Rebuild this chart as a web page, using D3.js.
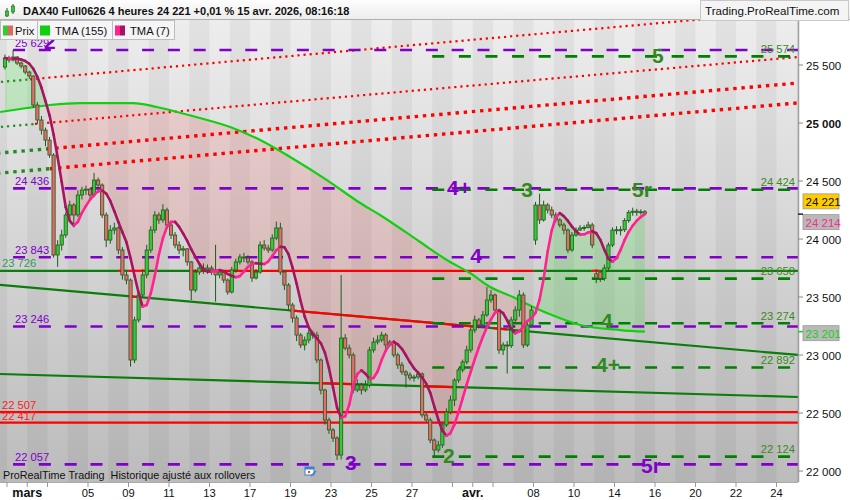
<!DOCTYPE html>
<html>
<head>
<meta charset="utf-8">
<script src="https://cdn.jsdelivr.net/npm/d3@7"></script>
<style>
body{margin:0;background:#fff;}
svg{display:block;font-family:Arial,"Liberation Sans",sans-serif;}
</style>
</head>
<body>
<svg id="chart" width="850" height="500"></svg>
<script>
// ---- data ----
// day 0 = 26 fevr., trading days only (3 and 6 avr. closed)
var tickDays  = [2, 5, 7, 9, 11, 13, 15, 17, 19, 21, 24, 27, 29, 31, 33, 35, 37, 39]
var tickTexts = ['mars', '05', '09', '11', '13', '17', '19', '23', '25', '27', 'avr.', '08', '10', '14', '16', '20', '22', '24']
var monthTicks = [1, 3, 23, 25]

// 4h bars [open, high, low, close], first one = last bar of 26 fevr.
var candles = [
[25482,25590,25460,25560],[25560,25580,25520,25543],[25543,25629,25530,25569],[25569,25575,25500,25517],
[25517,25530,25470,25491],[25491,25500,25420,25439],[25439,25450,25380,25405],[25405,25410,25130,25155],
[25155,25180,24990,25026],[25026,25060,24900,24939],[24939,24960,24800,24853],[24853,24880,24700,24724],
[24724,24740,23840,23862],[23862,23990,23760,23948],[23948,24080,23900,24034],[24034,24230,24010,24207],
[24207,24330,24170,24293],[24293,24310,24100,24207],[24207,24420,24190,24379],[24379,24450,24340,24422],
[24422,24460,24380,24430],[24430,24440,24350,24379],[24379,24570,24360,24508],[24508,24530,24440,24465],
[24465,24480,24180,24207],[24207,24230,23930,23991],[23991,24120,23960,24077],[24077,24140,24040,24095],
[24095,24110,23870,23905],[23905,23930,23650,23690],[23690,23720,23610,23646],[23646,23660,22900,22957],
[22957,23330,22930,23302],[23302,23560,23280,23517],[23517,23740,23500,23690],[23690,23950,23660,23905],
[23905,24110,23880,24077],[24077,24240,24050,24207],[24207,24230,24130,24164],[24164,24300,24140,24250],
[24250,24270,24090,24121],[24121,24140,24000,24034],[24034,24060,23920,23948],[23948,23980,23870,23905],
[23905,23940,23850,23915],[23915,23920,23770,23802],[23802,23810,23474,23560],[23560,23740,23540,23715],
[23715,23800,23690,23750],[23750,23790,23700,23733],[23733,23780,23700,23750],[23750,23770,23690,23733],
[23733,23950,23460,23690],[23690,23740,23660,23715],[23715,23730,23620,23646],[23646,23660,23520,23543],
[23543,23760,23530,23733],[23733,23830,23710,23802],[23802,23870,23780,23845],[23845,23880,23800,23836],
[23836,23860,23780,23802],[23802,23820,23630,23664],[23664,23740,23650,23715],[23715,23980,23700,23948],
[23948,23990,23900,23922],[23922,23950,23880,23905],[23905,24040,23890,24008],[24008,24150,23990,24095],
[24095,24140,23690,23715],[23715,23730,23560,23603],[23603,23620,23380,23431],[23431,23450,23280,23319],
[23319,23340,23120,23172],[23172,23190,23060,23086],[23086,23160,23040,23129],[23129,23220,23100,23189],
[23189,23210,23140,23172],[23172,23200,22930,22957],[22957,22970,22660,22698],[22698,22710,22400,22440],
[22440,22460,22320,22354],[22354,22370,22250,22284],[22284,22300,22095,22138],[22138,23690,22100,23146],
[23146,23180,23040,23060],[23060,23090,22970,23000],[23000,23020,22670,22698],[22698,22790,22680,22741],
[22741,22760,22660,22698],[22698,22780,22680,22741],[22741,23070,22720,23043],[23043,23150,23020,23112],
[23112,23170,23090,23129],[23129,23200,23110,23172],[23172,23190,23050,23086],[23086,23130,23070,23112],
[23112,23130,22980,23000],[23000,23020,22880,22914],[22914,22940,22830,22854],[22854,22870,22720,22828],
[22828,22850,22780,22802],[22802,22830,22770,22810],[22810,22860,22790,22836],[22836,22850,22460,22483],
[22483,22500,22420,22440],[22440,22460,22240,22267],[22267,22280,22124,22181],[22181,22260,22160,22224],
[22224,22420,22200,22397],[22397,22540,22380,22509],[22509,22650,22490,22612],[22612,22800,22560,22784],
[22784,22890,22760,22871],[22871,22960,22850,22940],[22940,23080,22920,23043],[23043,23240,23020,23215],
[23215,23340,23190,23302],[23302,23320,23230,23259],[23259,23380,23240,23345],[23345,23585,23330,23474],
[23474,23560,23450,23517],[23517,23530,23360,23388],[23388,23400,23010,23043],[23043,23110,23000,23086],
[23086,23120,22840,23080],[23080,23330,23060,23302],[23302,23420,23280,23388],[23388,23560,23330,23517],
[23517,23540,23060,23086],[23086,23280,23070,23259],[23259,23420,23240,23388],[23991,24320,23950,24293],
[24293,24390,24130,24164],[24164,24330,24150,24293],[24293,24310,24220,24250],[24250,24280,24180,24207],
[24207,24230,24140,24164],[24164,24180,24100,24121],[24121,24140,24040,24077],[24077,24090,23880,23905],
[23905,24060,23890,24034],[24034,24100,24020,24077],[24077,24120,24070,24095],[24095,24120,24070,24100],
[24100,24150,24090,24121],[24121,24140,23920,23948],[23700,23740,23620,23664],[23715,23720,23630,23660],
[23660,23780,23640,23750],[23750,23970,23730,23948],[23948,24100,23930,24077],[24077,24110,24040,24080],
[24080,24110,24030,24080],[24080,24180,24060,24160],[24160,24250,24140,24230],[24230,24270,24200,24240],
[24240,24260,24200,24230],[24230,24255,24210,24235],[24235,24250,24205,24221]
]

// TMA(155) read at a few bars [bar, value]
var tma155 = [
[-1.2,25095],[5.4,25129],[11.1,25155],[18.5,25172],[31.6,25172],[37.5,25138],[42.5,25095],[48.1,25043],
[55.6,24965],[63,24853],[70.4,24707],[79.5,24508],[87.7,24310],[92.6,24207],[102.5,23974],[109.1,23819],
[114.8,23707],[119.8,23586],[125.4,23500],[130.4,23414],[136.3,23327],[142,23259],[151.9,23215],[158,23201]
]

var purpleLevels = [25629, 24436, 23843, 23246, 22057]
var greenLevels  = [25574, 24424, 23658, 23274, 22892, 22124]
var redLevels    = [22507, 22417]
var supportLevel = 23726
// pieces of the 23726 line: [from bar, to bar, broken?]
var supportPieces = [[-4,27.9,0],[27.9,29.6,1],[29.6,30.4,0],[30.4,34.6,1],[34.6,45.7,0],[45.7,130.4,1],
                     [130.4,144.9,0],[144.9,146.9,1],[146.9,200,0]]

// sloped lines: two anchors [bar, value] and the broken pieces
var trendLines = [
  {a: [0, 23600], b: [158, 23116], broken: [[30.4,32.6],[70.4,116.8],[120.5,123.9],[127.6,128.9]]},
  {a: [0, 22835], b: [158, 22676], broken: [[77.8,85.9],[102.5,110.4]]}
]
// dotted channel lines: anchors and bar where green turns red
var dottedLines = [
  {a: [0, 25357], b: [158, 25850], turn: 6.2, big: false},
  {a: [0, 24969], b: [158, 25453], turn: 7.4, big: false},
  {a: [0, 24745], b: [158, 25229], turn: 10.4, big: true},
  {a: [0, 24572], b: [158, 25057], turn: 11.1, big: true}
]

// wave labels [text, bar, value, group]
var waveLabels = [
  ['2', 11.1, 25638, 'p'], ['4+', 112.1, 24379, 'p'], ['4', 116.3, 23793, 'p'], ['3', 85.4, 22009, 'p'],
  ['5r', 159.5, 21983, 'p'], ['5', 161.2, 25517, 'g'], ['3', 128.9, 24362, 'g'], ['5r', 157.3, 24362, 'g'],
  ['4', 148.6, 23233, 'g'], ['4+', 148.9, 22853, 'g'], ['2', 109.6, 22069, 'g']
]
var priceTicks = [22000, 22500, 23000, 23500, 24000, 24500, 25000, 25500]
var lastPrice = 24221

// ---- layout ----
var W = 850, H = 500
var PLOT_R = 798, PLOT_T = 20, PLOT_B = 482
var BARS_PER_DAY = 5, FIRST_SLOT = 4
var PURPLE_FROM = 2, GREEN_FROM = 105.5

var svg = d3.select('#chart')
var defs = svg.append('defs')

var xDay = d3.scaleLinear().domain([0, 1]).range([-13.25, 7])
function barX(j) { return xDay((j + FIRST_SLOT + 0.5) / BARS_PER_DAY) }
var y = d3.scaleLinear().domain([22000, 25500]).range([471, 65])
function fmt(v) { return String(Math.round(v)).replace(/\B(?=(\d{3})+$)/g, ' ') }
function lineAt(l, j) { return l.a[1] + (l.b[1] - l.a[1]) * (j - l.a[0]) / (l.b[0] - l.a[0]) }

// background
var grad = defs.append('linearGradient').attr('id', 'bg').attr('x1', 0).attr('y1', 0).attr('x2', 0).attr('y2', 1)
grad.append('stop').attr('offset', 0).attr('stop-color', '#ededed')
grad.append('stop').attr('offset', 1).attr('stop-color', '#bcbcbc')
svg.append('rect').attr('width', W).attr('height', H).attr('fill', '#fff')
defs.append('clipPath').attr('id', 'plotclip').append('rect')
	.attr('x', 0).attr('y', PLOT_T).attr('width', PLOT_R).attr('height', PLOT_B - PLOT_T)

var plot = svg.append('g').attr('clip-path', 'url(#plotclip)')
plot.append('rect').attr('x', 0).attr('y', PLOT_T).attr('width', PLOT_R).attr('height', PLOT_B - PLOT_T).attr('fill', 'url(#bg)')
plot.selectAll('rect.stripe').data(d3.range(0, 42, 2)).enter().append('rect')
	.attr('class', 'stripe')
	.attr('x', function(k) { return xDay(k) })
	.attr('width', xDay(1) - xDay(0))
	.attr('y', PLOT_T).attr('height', PLOT_B - PLOT_T)
	.attr('fill', '#000').attr('opacity', 0.045)

// TMA lines
var closes = candles.map(function(d) { return d[3] })
function sma(arr, n)
{
	return arr.map(function(v, i) { return d3.mean(arr.slice(Math.max(0, i - n + 1), i + 1)) })
}
var tma7 = sma(sma(closes, 4), 4)
var n = candles.length
var xs = barX(-1.2), xe = barX(n - 1)
var p7 = d3.line().x(function(d, i) { return barX(i) }).y(function(d) { return y(d) })(tma7)
var p155 = d3.line().x(function(d) { return barX(d[0]) }).y(function(d) { return y(d[1]) }).curve(d3.curveMonotoneX)(tma155)
defs.append('clipPath').attr('id', 'above155').append('path').attr('d', p155 + 'L' + xe + ',0L' + xs + ',0Z')
defs.append('clipPath').attr('id', 'below155').append('path').attr('d', p155 + 'L' + xe + ',' + H + 'L' + xs + ',' + H + 'Z')
plot.append('g').attr('clip-path', 'url(#below155)').append('path')
	.attr('d', p7 + 'L' + xe + ',0L' + barX(0) + ',0Z')
	.attr('fill', 'rgb(255,80,80)').attr('opacity', 0.16)
plot.append('g').attr('clip-path', 'url(#above155)').append('path')
	.attr('d', p7 + 'L' + xe + ',' + H + 'L' + barX(0) + ',' + H + 'Z')
	.attr('fill', 'rgb(40,220,40)').attr('opacity', 0.2)

// dotted channel
dottedLines.forEach(function(l)
{
	var parts = [[-4, l.turn, '#1e8c1e'], [l.turn, 200, '#ff0000']]
	parts.forEach(function(p)
	{
		plot.append('line')
			.attr('x1', barX(p[0])).attr('y1', y(lineAt(l, p[0])))
			.attr('x2', barX(p[1])).attr('y2', y(lineAt(l, p[1])))
			.attr('stroke', p[2])
			.attr('stroke-width', l.big ? 3.4 : 2.2)
			.attr('stroke-dasharray', l.big ? '3.4,4.8' : '2.2,3.9')
	})
})

// solid sloped lines
trendLines.forEach(function(l)
{
	plot.append('line')
		.attr('x1', barX(-4)).attr('y1', y(lineAt(l, -4)))
		.attr('x2', barX(200)).attr('y2', y(lineAt(l, 200)))
		.attr('stroke', '#0a7d0a').attr('stroke-width', 2.2)
	l.broken.forEach(function(p)
	{
		plot.append('line')
			.attr('x1', barX(p[0])).attr('y1', y(lineAt(l, p[0])))
			.attr('x2', barX(p[1])).attr('y2', y(lineAt(l, p[1])))
			.attr('stroke', '#ff0000').attr('stroke-width', 2.2)
	})
})

// horizontal solid levels
plot.selectAll('line.red').data(redLevels).enter().append('line')
	.attr('x1', 0).attr('x2', PLOT_R)
	.attr('y1', function(d) { return y(d) }).attr('y2', function(d) { return y(d) })
	.attr('stroke', '#ff0000').attr('stroke-width', 2.2)
plot.selectAll('line.support').data(supportPieces).enter().append('line')
	.attr('x1', function(d) { return barX(d[0]) }).attr('x2', function(d) { return barX(d[1]) })
	.attr('y1', y(supportLevel)).attr('y2', y(supportLevel))
	.attr('stroke', function(d) { return d[2] ? '#ff0000' : '#0a7d0a' }).attr('stroke-width', 2.2)

// dashed levels
plot.selectAll('line.plev').data(purpleLevels).enter().append('line')
	.attr('x1', barX(PURPLE_FROM)).attr('x2', PLOT_R)
	.attr('y1', function(d) { return y(d) }).attr('y2', function(d) { return y(d) })
	.attr('stroke', '#8000c8').attr('stroke-width', 2.6).attr('stroke-dasharray', '12,13.8')
plot.selectAll('line.glev').data(greenLevels).enter().append('line')
	.attr('x1', barX(GREEN_FROM)).attr('x2', PLOT_R)
	.attr('y1', function(d) { return y(d) }).attr('y2', function(d) { return y(d) })
	.attr('stroke', '#008000').attr('stroke-width', 2.6).attr('stroke-dasharray', '12,14.6')

// TMA 155
plot.append('path').attr('d', p155).attr('fill', 'none').attr('stroke', '#11d011').attr('stroke-width', 2.2)

// candles
var cg = plot.selectAll('g.candle').data(candles).enter().append('g').attr('class', 'candle')
cg.append('line')
	.attr('x1', function(d, i) { return barX(i) }).attr('x2', function(d, i) { return barX(i) })
	.attr('y1', function(d) { return y(d[1]) }).attr('y2', function(d) { return y(d[2]) })
	.attr('stroke', '#1d5c1d').attr('stroke-width', 1)
cg.append('rect')
	.attr('x', function(d, i) { return barX(i) - 1.6 })
	.attr('width', 3.2)
	.attr('y', function(d) { return y(Math.max(d[0], d[3])) })
	.attr('height', function(d) { return Math.max(1, Math.abs(y(d[0]) - y(d[3]))) })
	.attr('fill', function(d) { return d[3] >= d[0] ? '#35c935' : '#e86a6a' })
	.attr('stroke', '#1d5c1d').attr('stroke-width', 0.8)

// TMA 7, pink when rising, dark when falling
plot.selectAll('line.tma7').data(d3.pairs(tma7.map(function(v, i) { return [i, v] }))).enter().append('line')
	.attr('x1', function(d) { return barX(d[0][0]) }).attr('y1', function(d) { return y(d[0][1]) })
	.attr('x2', function(d) { return barX(d[1][0]) }).attr('y2', function(d) { return y(d[1][1]) })
	.attr('stroke', function(d) { return d[1][1] >= d[0][1] ? '#ff2290' : '#a5145f' })
	.attr('stroke-width', 2.6).attr('stroke-linecap', 'round')

// level labels
plot.selectAll('text.plab').data(purpleLevels).enter().append('text')
	.attr('x', 15).attr('y', function(d) { return y(d) - 3 })
	.attr('font-size', 11.2).attr('fill', '#8000c8').text(fmt)
plot.selectAll('text.glab').data(greenLevels).enter().append('text')
	.attr('x', 795).attr('y', function(d) { return y(d) - 3.5 }).attr('text-anchor', 'end')
	.attr('font-size', 11.2).attr('fill', '#3a8a1a').text(fmt)
plot.selectAll('text.rlab').data(redLevels).enter().append('text')
	.attr('x', 2).attr('y', function(d) { return y(d) - 3 })
	.attr('font-size', 11.2).attr('fill', '#ff1a1a').text(fmt)
plot.append('text').attr('x', 2).attr('y', y(supportLevel) - 3.5)
	.attr('font-size', 11.2).attr('fill', '#2f9a5a').text(fmt(supportLevel))

// wave labels
plot.selectAll('text.wave').data(waveLabels).enter().append('text')
	.attr('x', function(d) { return barX(d[1]) }).attr('y', function(d) { return y(d[2]) })
	.attr('text-anchor', 'middle').attr('font-size', 21).attr('font-weight', 'bold')
	.attr('fill', function(d) { return d[3] == 'p' ? '#8000c8' : '#2f8a1c' })
	.text(function(d) { return d[0] })

plot.append('text').attr('x', 3).attr('y', 479).attr('font-size', 10.8).attr('fill', '#111')
	.text('ProRealTime Trading\u00a0 Historique ajust\u00e9 aux rollovers')
// calendar marker
var cal = plot.append('g').attr('transform', 'translate(305,467)')
cal.append('rect').attr('width', 9).attr('height', 8).attr('fill', '#fff').attr('stroke', '#3a7fd0').attr('stroke-width', 1)
cal.append('rect').attr('width', 9).attr('height', 2.5).attr('fill', '#3a7fd0')
cal.append('rect').attr('x', 3).attr('y', 4).attr('width', 2).attr('height', 2).attr('fill', '#e04040')
cal.append('path').attr('d', 'M6,9L11,4').attr('stroke', '#3a7fd0').attr('stroke-width', 1.5)

// ---- right axis ----
svg.append('line').attr('x1', PLOT_R + 0.5).attr('x2', PLOT_R + 0.5).attr('y1', PLOT_T).attr('y2', PLOT_B)
	.attr('stroke', '#a0a0a0').attr('stroke-width', 1.5)
var ra = svg.selectAll('g.rtick').data(priceTicks).enter().append('g')
	.attr('transform', function(d) { return 'translate(0,' + y(d) + ')' })
ra.append('line').attr('x1', PLOT_R).attr('x2', PLOT_R + 5).attr('stroke', '#888')
ra.append('text').attr('x', 806).attr('y', 4.5).attr('font-size', 11.5).attr('fill', '#111')
	.attr('font-weight', function(d) { return d == 25000 ? 'bold' : 'normal' })
	.text(fmt)

function valueBox(v, dy, fill, color, tick)
{
	var g = svg.append('g').attr('transform', 'translate(0,' + (y(v) + dy) + ')')
	if(tick) svg.append('line').attr('x1', PLOT_R).attr('x2', PLOT_R + 5).attr('y1', y(v)).attr('y2', y(v)).attr('stroke', tick).attr('stroke-width', 1.5)
	g.append('rect').attr('x', 803).attr('y', -7.5).attr('width', 36).attr('height', 15)
		.attr('fill', fill).attr('stroke', '#9a9a9a').attr('stroke-width', 0.8)
	g.append('text').attr('x', 805.5).attr('y', 4.5).attr('font-size', 11.5).attr('fill', color).text(fmt(v))
}
valueBox(lastPrice, -12, '#ffcc00', '#111', null)
valueBox(tma7[n - 1], 8, '#b9b9b9', '#ff2a8a', '#222')
valueBox(tma155[tma155.length - 1][1], 1.5, '#b9b9b9', '#16d016', '#16d016')

// ---- bottom axis ----
svg.append('line').attr('x1', 0).attr('x2', PLOT_R).attr('y1', PLOT_B + 0.5).attr('y2', PLOT_B + 0.5).attr('stroke', '#aaa')
svg.selectAll('line.btick').data(tickDays.concat(monthTicks)).enter().append('line')
	.attr('x1', function(d) { return xDay(d) }).attr('x2', function(d) { return xDay(d) })
	.attr('y1', PLOT_B).attr('y2', PLOT_B + 5).attr('stroke', '#999')
svg.selectAll('text.btick').data(tickDays).enter().append('text')
	.attr('x', function(d) { return xDay(d) }).attr('y', 497).attr('text-anchor', 'middle')
	.attr('fill', '#111')
	.attr('font-size', function(d, i) { return tickTexts[i].length > 2 ? 12.5 : 11.2 })
	.attr('font-weight', function(d, i) { return tickTexts[i].length > 2 ? 'bold' : 'normal' })
	.text(function(d, i) { return tickTexts[i] })

// ---- header ----
var hg = defs.append('linearGradient').attr('id', 'hdr').attr('x1', 0).attr('y1', 0).attr('x2', 0).attr('y2', 1)
hg.append('stop').attr('offset', 0).attr('stop-color', '#fdfdfd')
hg.append('stop').attr('offset', 1).attr('stop-color', '#ececec')
svg.append('rect').attr('width', W).attr('height', PLOT_T).attr('fill', 'url(#hdr)')
svg.append('line').attr('x1', 0).attr('x2', W).attr('y1', PLOT_T - 0.5).attr('y2', PLOT_T - 0.5).attr('stroke', '#b0b0b0')
var icon = svg.append('g').attr('transform', 'translate(4,4)')
icon.append('line').attr('x1', 3).attr('x2', 3).attr('y1', 4).attr('y2', 13).attr('stroke', '#1d5c1d')
icon.append('rect').attr('x', 1.5).attr('y', 7).attr('width', 3).attr('height', 5).attr('fill', '#35c935').attr('stroke', '#1d5c1d').attr('stroke-width', 0.6)
icon.append('line').attr('x1', 9).attr('x2', 9).attr('y1', 0).attr('y2', 10).attr('stroke', '#1d5c1d')
icon.append('rect').attr('x', 7.5).attr('y', 2).attr('width', 3).attr('height', 6).attr('fill', '#35c935').attr('stroke', '#1d5c1d').attr('stroke-width', 0.6)
svg.append('text').attr('x', 23).attr('y', 14.5).attr('font-size', 11).attr('font-weight', 'bold').attr('fill', '#111')
	.text('DAX40 Full0626 4 heures 24 221 +0,01 % 15 avr. 2026, 08:16:18')
svg.append('rect').attr('x', 700.5).attr('y', 0.5).attr('width', 148).attr('height', 20).attr('fill', '#f4f4f4').attr('stroke', '#c8c8c8')
svg.append('text').attr('x', 705).attr('y', 14.5).attr('font-size', 11.6).attr('fill', '#111').text('Trading.ProRealTime.com')

// ---- legend ----
var legendItems = [
	{label: 'Prix', x: 0, w: 37, c1: '#35c935', c2: '#e06666'},
	{label: 'TMA (155)', x: 37, w: 75, c1: '#11d011', c2: '#11d011'},
	{label: 'TMA (7)', x: 112, w: 62, c1: '#ff2290', c2: '#a5145f'}
]
var lg = svg.selectAll('g.leg').data(legendItems).enter().append('g')
	.attr('transform', function(d) { return 'translate(' + d.x + ',' + PLOT_T + ')' })
lg.append('rect').attr('x', 0.5).attr('y', 0.5).attr('width', function(d) { return d.w }).attr('height', 19)
	.attr('fill', '#f5f5f5').attr('stroke', '#bdbdbd')
lg.append('rect').attr('x', 3).attr('y', 5.5).attr('width', 5).attr('height', 10).attr('fill', function(d) { return d.c1 })
lg.append('rect').attr('x', 8).attr('y', 5.5).attr('width', 5).attr('height', 10).attr('fill', function(d) { return d.c2 })
lg.append('text').attr('x', function(d, i) { return i ? 18 : 15 }).attr('y', 14.5).attr('font-size', 11.2).attr('fill', '#111').text(function(d) { return d.label })
</script>
</body>
</html>
